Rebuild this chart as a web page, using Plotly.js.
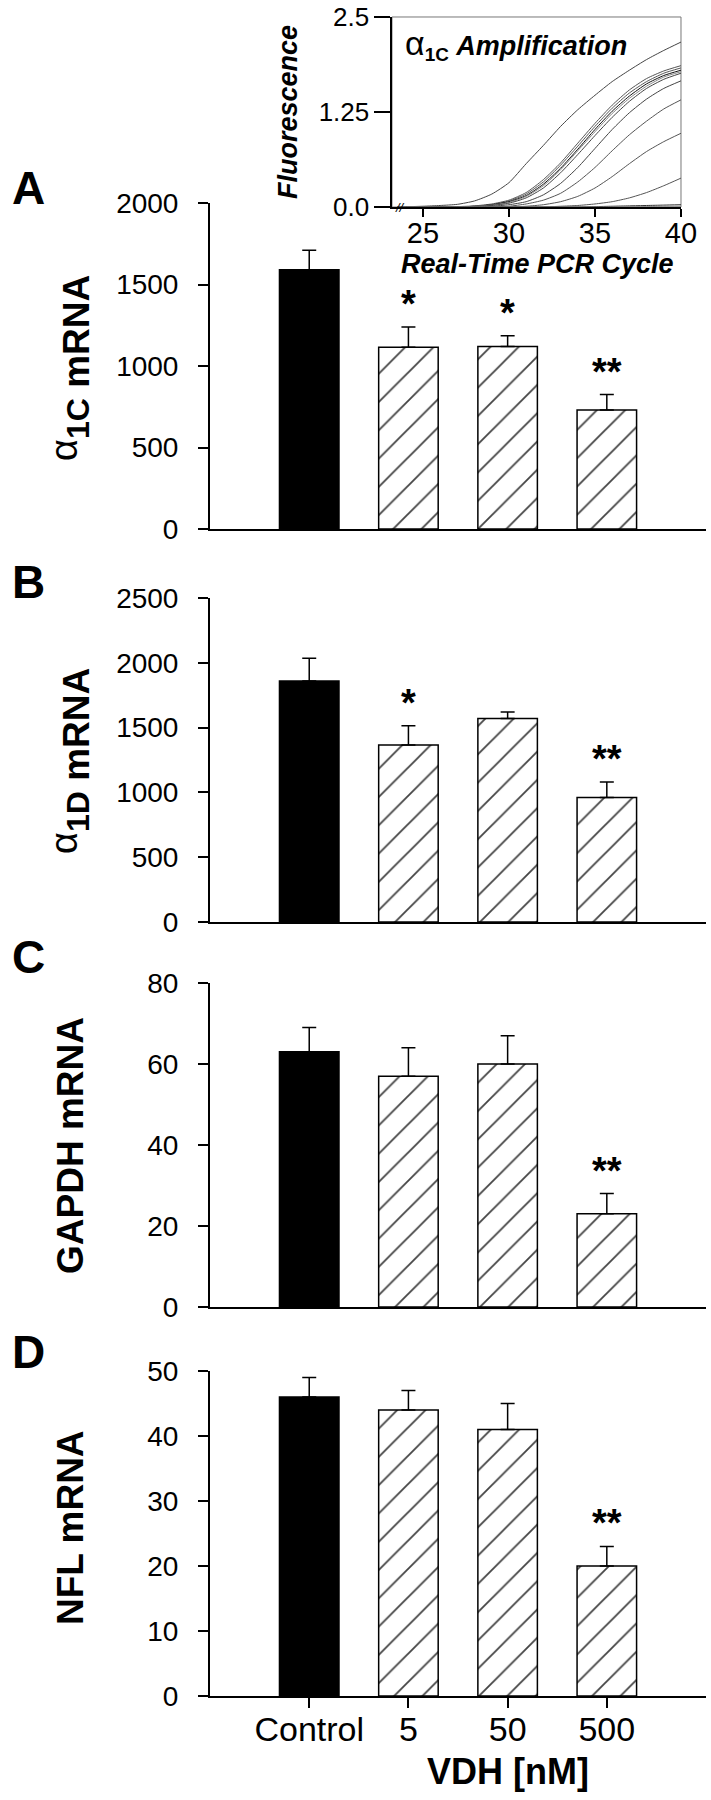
<!DOCTYPE html>
<html><head><meta charset="utf-8">
<script src="https://cdn.plot.ly/plotly-3.0.1.min.js"></script>
<style>body{margin:0;background:#fff}#chart{width:711px;height:1800px}</style>
</head><body><div id="chart"></div>
<script>
// ---- bar data ----
const categories = ['Control', '5', '50', '500'];
const a1cMean = [1590, 1115, 1120, 730];
const a1cErr  = [120, 125, 65, 95];
const a1cSig  = ['', '*', '*', '**'];
const a1dMean = [1860, 1365, 1570, 960];
const a1dErr  = [175, 150, 50, 120];
const a1dSig  = ['', '*', '', '**'];
const gapdhMean = [63, 57, 60, 23];
const gapdhErr  = [6, 7, 7, 5];
const gapdhSig  = ['', '', '', '**'];
const nflMean = [46, 44, 41, 20];
const nflErr  = [3, 3, 4, 3];
const nflSig  = ['', '', '', '**'];
const yTicksA = [0, 500, 1000, 1500, 2000];
const yTicksB = [0, 500, 1000, 1500, 2000, 2500];
const yTicksC = [0, 20, 40, 60, 80];
const yTicksD = [0, 10, 20, 30, 40, 50];

// ---- inset amplification curves ----
const cycles = [23.5, 25, 26, 27, 28, 29, 30, 31, 32, 33, 34, 35, 36, 37, 38, 39, 40];
const curve1  = [0, 0.01, 0.02, 0.035, 0.08, 0.17, 0.32, 0.57, 0.81, 1.06, 1.28, 1.47, 1.65, 1.80, 1.94, 2.06, 2.17];
const curve2  = [0, 0, 0, 0.005, 0.015, 0.04, 0.09, 0.19, 0.36, 0.58, 0.84, 1.10, 1.34, 1.54, 1.69, 1.79, 1.86];
const curve3  = [0, 0, 0, 0, 0.01, 0.03, 0.08, 0.17, 0.33, 0.55, 0.80, 1.06, 1.30, 1.50, 1.65, 1.76, 1.83];
const curve4  = [0, 0, 0, 0, 0.01, 0.03, 0.07, 0.15, 0.30, 0.51, 0.76, 1.02, 1.26, 1.46, 1.62, 1.73, 1.80];
const curve5  = [0, 0, 0, 0, 0.01, 0.025, 0.06, 0.14, 0.28, 0.49, 0.74, 0.99, 1.23, 1.43, 1.59, 1.71, 1.78];
const curve6  = [0, 0, 0, 0, 0.005, 0.02, 0.05, 0.12, 0.25, 0.45, 0.69, 0.94, 1.18, 1.39, 1.56, 1.68, 1.76];
const curve7  = [0, 0, 0, 0, 0, 0.01, 0.03, 0.07, 0.16, 0.31, 0.52, 0.77, 1.02, 1.24, 1.42, 1.56, 1.66];
const curve8  = [0, 0, 0, 0, 0, 0, 0.01, 0.04, 0.09, 0.18, 0.33, 0.52, 0.74, 0.95, 1.13, 1.29, 1.41];
const curve9  = [0, 0, 0, 0, 0, 0, 0, 0.01, 0.03, 0.07, 0.14, 0.25, 0.40, 0.57, 0.73, 0.86, 0.97];
const curve10 = [0, 0, 0, 0, 0, 0, 0, 0, 0, 0.01, 0.02, 0.04, 0.07, 0.12, 0.19, 0.28, 0.38];
const curve11 = [0, 0, 0, 0, 0, 0, 0, 0, 0, 0, 0, 0.005, 0.01, 0.015, 0.02, 0.025, 0.03];
const curve12 = [0, 0, 0, 0, 0, 0, 0, 0, 0, 0, 0, 0, 0, 0.005, 0.005, 0.01, 0.01];
const curveColors = ['#444', '#555', '#555', '#111', '#888', '#444', '#444', '#555', '#555', '#555', '#333', '#888'];
const insetXTicks = [25, 30, 35, 40];
const insetYTicks = [0, 1.25, 2.5];
const insetYTickText = ['0.0', '1.25', '2.5'];

const FONT = 'Liberation Sans, Arial, sans-serif';
const ALPHA = (sub) => '<span style="font-weight:normal;font-size:38px;baseline-shift:12px">α</span><span style="font-size:32px">' + sub + '</span> mRNA';

const panels = [
  {mean: a1cMean, err: a1cErr, sig: a1cSig, ticks: yTicksA, max: 2000, dom: [0.70611, 0.88722], letter: 'A', letterY: 188,
   title: ALPHA('1C'), titleY: 368},
  {mean: a1dMean, err: a1dErr, sig: a1dSig, ticks: yTicksB, max: 2500, dom: [0.48778, 0.66778], letter: 'B', letterY: 582,
   title: ALPHA('1D'), titleY: 761},
  {mean: gapdhMean, err: gapdhErr, sig: gapdhSig, ticks: yTicksC, max: 80, dom: [0.27389, 0.45389], letter: 'C', letterY: 957,
   title: 'GAPDH mRNA', titleY: 1146},
  {mean: nflMean, err: nflErr, sig: nflSig, ticks: yTicksD, max: 50, dom: [0.05778, 0.23833], letter: 'D', letterY: 1352,
   title: 'NFL mRNA', titleY: 1528}
];

const data = [];
const annotations = [];
const layout = {
  width: 711, height: 1800,
  margin: {l: 0, r: 0, t: 0, b: 0},
  paper_bgcolor: '#fff', plot_bgcolor: 'rgba(0,0,0,0)',
  showlegend: false,
  font: {family: FONT, color: '#000'},
  bargap: 0.4,
  shapes: []
};

panels.forEach((p, i) => {
  const n = i + 1;
  const xa = 'x' + (n === 1 ? '' : n), ya = 'y' + (n === 1 ? '' : n);
  data.push({
    type: 'bar', x: categories, y: p.mean, xaxis: xa, yaxis: ya, width: 0.6,
    marker: {
      color: ['#000', '#fff', '#fff', '#fff'],
      line: {color: '#000', width: 1.5},
      pattern: {shape: ['', '/', '/', '/'], fgcolor: '#000', fgopacity: 1, size: 20, solidity: 0.09, fillmode: 'overlay'}
    },
    error_y: {type: 'data', symmetric: false, array: p.err, arrayminus: p.err.map(() => 0),
      color: '#000', thickness: 1.5, width: 7},
    hoverinfo: 'none'
  });
  const isLast = n === 4;
  layout['xaxis' + (n === 1 ? '' : n)] = {
    domain: [0.2954, 0.993], anchor: ya, type: 'category', range: [-1, 4],
    showline: true, linecolor: '#000', linewidth: 2, showgrid: false, zeroline: false,
    ticks: isLast ? 'outside' : '', ticklen: 10, tickwidth: 2, tickcolor: '#000',
    showticklabels: isLast, tickfont: {size: 34, family: FONT}, ticklabelstandoff: -8, fixedrange: true
  };
  layout['yaxis' + (n === 1 ? '' : n)] = {
    domain: p.dom, anchor: xa, range: [0, p.max], tickvals: p.ticks,
    showline: true, linecolor: '#000', linewidth: 2, showgrid: false, zeroline: false,
    ticks: 'outside', ticklen: 10, tickwidth: 2, tickcolor: '#000',
    tickfont: {size: 28, family: FONT}, ticklabelstandoff: 14, fixedrange: true
  };
  p.sig.forEach((s, j) => {
    if (!s) return;
    annotations.push({xref: xa, yref: ya, x: j, y: p.mean[j] + p.err[j],
      text: '<b>' + s + '</b>', showarrow: false, yanchor: 'bottom', xanchor: 'center',
      font: {size: 38, family: FONT, color: '#000'}, yshift: 0});
  });
  annotations.push({xref: 'paper', yref: 'paper', x: 28 / 711, y: 1 - p.letterY / 1800,
    text: '<b>' + p.letter + '</b>', showarrow: false, xanchor: 'center', yanchor: 'middle',
    font: {size: 46, family: FONT, color: '#000'}});
  annotations.push({xref: 'paper', yref: 'paper', x: 70 / 711, y: 1 - p.titleY / 1800,
    text: '<b>' + p.title + '</b>', textangle: -90, showarrow: false, xanchor: 'center', yanchor: 'middle',
    font: {size: 37, family: FONT, color: '#000'}});
});

// x axis title of bottom panel (centred under the "50" category, as in the figure)
annotations.push({xref: 'x4', yref: 'paper', x: 2, y: 1 - 1771 / 1800,
  text: '<b>VDH [nM]</b>', showarrow: false, xanchor: 'center', yanchor: 'middle',
  font: {size: 36, family: FONT, color: '#000'}});

// ---- inset ----
const curves = [curve1, curve2, curve3, curve4, curve5, curve6, curve7, curve8, curve9, curve10, curve11, curve12];
curves.forEach((c, k) => {
  data.push({type: 'scatter', mode: 'lines', x: cycles, y: c, xaxis: 'x5', yaxis: 'y5',
    line: {color: curveColors[k], width: 1, shape: 'spline', smoothing: 0.6}, hoverinfo: 'none'});
});
layout.xaxis5 = {
  domain: [0.5513, 0.9578], anchor: 'y5', range: [23.2, 40], tickvals: insetXTicks,
  showline: true, linecolor: '#000', linewidth: 2, showgrid: false, zeroline: false,
  ticks: 'outside', ticklen: 8, tickwidth: 1.5, tickcolor: '#000',
  tickfont: {size: 29, family: FONT}, ticklabelstandoff: -9, fixedrange: true
};
layout.yaxis5 = {
  domain: [0.885, 0.99056], anchor: 'x5', range: [0, 2.5], tickvals: insetYTicks, ticktext: insetYTickText,
  showline: true, linecolor: '#000', linewidth: 1.5, showgrid: false, zeroline: false,
  ticks: 'outside', ticklen: 16, tickwidth: 1.5, tickcolor: '#000',
  tickfont: {size: 26, family: FONT}, ticklabelstandoff: 0, fixedrange: true
};
layout.shapes.push({type: 'rect', xref: 'x5 domain', yref: 'y5 domain', x0: 0, x1: 1, y0: 0, y1: 1,
  line: {color: '#777', width: 1}, fillcolor: 'rgba(0,0,0,0)', layer: 'below'});
annotations.push({xref: 'paper', yref: 'paper', x: 288 / 711, y: 1 - 112 / 1800,
  text: '<b><i>Fluorescence</i></b>', textangle: -90, showarrow: false, xanchor: 'center', yanchor: 'middle',
  font: {size: 27, family: FONT, color: '#000'}});
annotations.push({xref: 'paper', yref: 'paper', x: 537 / 711, y: 1 - 264 / 1800,
  text: '<b><i>Real-Time PCR Cycle</i></b>', showarrow: false, xanchor: 'center', yanchor: 'middle',
  font: {size: 27, family: FONT, color: '#000'}});
annotations.push({xref: 'paper', yref: 'paper', x: 403 / 711, y: 1 - 44 / 1800,
  text: '<span style="font-size:34px">α</span><b><sub>1C</sub> <i>Amplification</i></b>', showarrow: false,
  xanchor: 'left', yanchor: 'middle', font: {size: 27, family: FONT, color: '#000'}});
annotations.push({xref: 'x5', yref: 'y5', x: 23.65, y: 0, text: '<i>//</i>', showarrow: false,
  xanchor: 'center', yanchor: 'middle', font: {size: 13, family: FONT, color: '#000'}});

layout.annotations = annotations;
Plotly.newPlot('chart', data, layout, {staticPlot: true, displayModeBar: false});
</script></body></html>
